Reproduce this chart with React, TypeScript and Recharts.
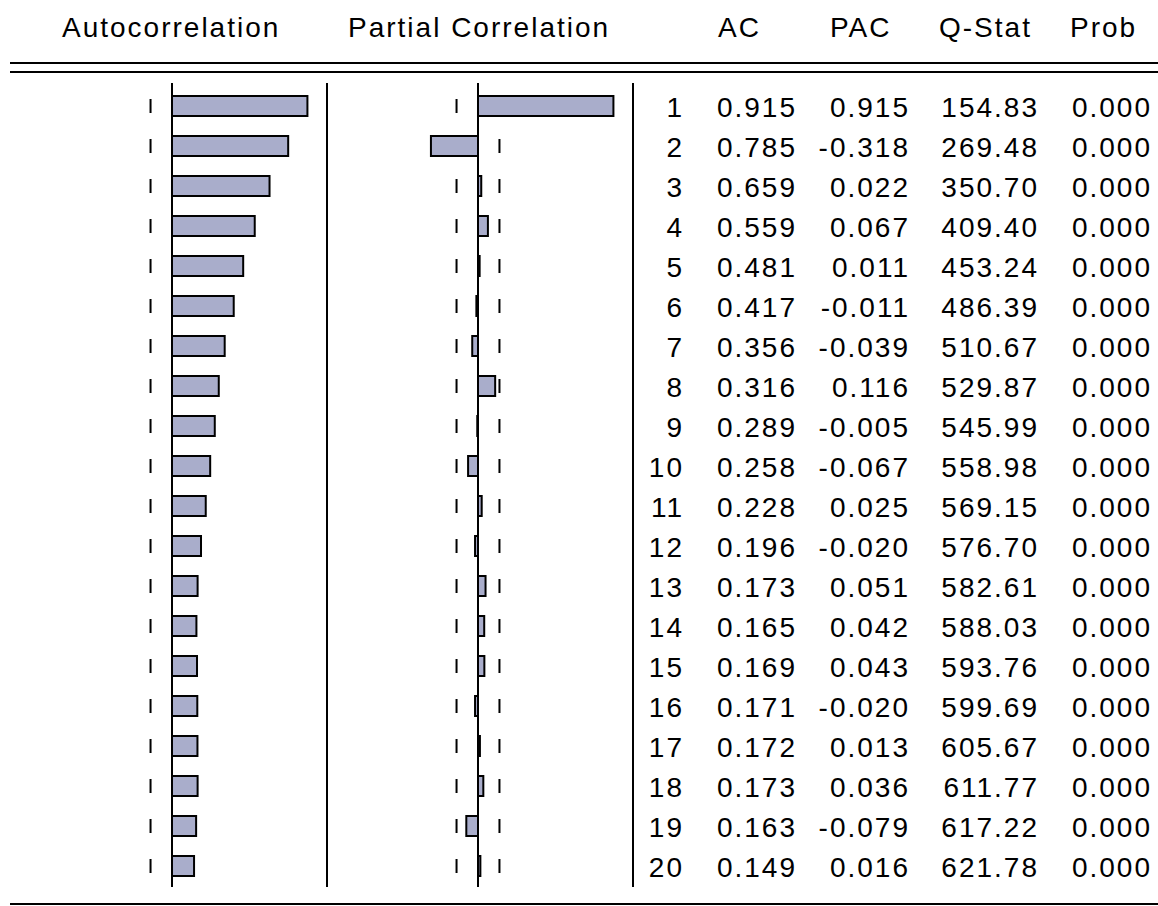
import React from "react";
import { ComposedChart, Bar, Line, XAxis, YAxis, ReferenceLine } from "recharts";

const lags = [1, 2, 3, 4, 5, 6, 7, 8, 9, 10, 11, 12, 13, 14, 15, 16, 17, 18, 19, 20];
const acValues = [0.915, 0.785, 0.659, 0.559, 0.481, 0.417, 0.356, 0.316, 0.289, 0.258, 0.228, 0.196, 0.173, 0.165, 0.169, 0.171, 0.172, 0.173, 0.163, 0.149];
const pacValues = [0.915, -0.318, 0.022, 0.067, 0.011, -0.011, -0.039, 0.116, -0.005, -0.067, 0.025, -0.02, 0.051, 0.042, 0.043, -0.02, 0.013, 0.036, -0.079, 0.016];
const qStats = [154.83, 269.48, 350.7, 409.4, 453.24, 486.39, 510.67, 529.87, 545.99, 558.98, 569.15, 576.7, 582.61, 588.03, 593.76, 599.69, 605.67, 611.77, 617.22, 621.78];
const probs = [0, 0, 0, 0, 0, 0, 0, 0, 0, 0, 0, 0, 0, 0, 0, 0, 0, 0, 0, 0];
// approx. 2/sqrt(T) band, read off the dashed ticks
const ciBound = 0.145;

const headers = [
  { text: "Autocorrelation", x: 62 },
  { text: "Partial Correlation", x: 348 },
  { text: "AC", x: 718 },
  { text: "PAC", x: 830 },
  { text: "Q-Stat", x: 939 },
  { text: "Prob", x: 1070 },
];

const rows = lags.map((lag, i) => ({
  lag,
  ac: acValues[i],
  pac: pacValues[i],
  q: qStats[i],
  prob: probs[i],
  ciLo: -ciBound,
  ciHi: ciBound,
}));

const FONT = "'Liberation Sans', Arial, sans-serif";
const BAR_FILL = "#a9adcb";
const H = 906;

// short vertical tick for the confidence band, hidden when the bar covers it
function ciTick(valueKey: "ac" | "pac", sign: number) {
  return (props: any) => {
    const { cx, cy, payload, index } = props;
    const v = payload[valueKey];
    if (v * sign > 0 && Math.abs(v) >= ciBound) return <g key={`t-${index}`} />;
    return <rect key={`t-${index}`} x={cx - 1} y={cy - 7} width={2} height={14} fill="#000" />;
  };
}

// columns of the right-hand table, in the PAC chart's own svg coordinates
const colRight = { lag: 354, ac: 467, pac: 580, q: 709, prob: 822 };

function TableTick(props: any) {
  const { y, payload } = props;
  const i = lags.indexOf(payload.value);
  if (i < 0) return null;
  const base = y + 11;
  const cells = [
    { x: colRight.lag, t: String(lags[i]) },
    { x: colRight.ac, t: acValues[i].toFixed(3) },
    { x: colRight.pac, t: pacValues[i].toFixed(3) },
    { x: colRight.q, t: qStats[i].toFixed(2) },
    { x: colRight.prob, t: probs[i].toFixed(3) },
  ];
  return (
    <g>
      {cells.map((c, k) => (
        <text key={k} x={c.x} y={base} textAnchor="end" fontFamily={FONT} fontSize={28} letterSpacing={2} fill="#000">
          {c.t}
        </text>
      ))}
    </g>
  );
}

function CorrPanel({ valueKey, width, marginLeft, showTable }: { valueKey: "ac" | "pac"; width: number; marginLeft: number; showTable?: boolean }) {
  return (
    <ComposedChart
      layout="vertical"
      width={width}
      height={H}
      data={rows}
      margin={{ top: 83, right: showTable ? 0 : 10, bottom: 19, left: marginLeft }}
      barCategoryGap={0}
    >
      <XAxis type="number" domain={[-1, 1]} hide />
      <YAxis type="category" dataKey="lag" hide padding={{ top: 3, bottom: 1 }} />
      {showTable && (
        <YAxis
          yAxisId="table"
          type="category"
          dataKey="lag"
          orientation="right"
          width={532}
          axisLine={false}
          tickLine={false}
          interval={0}
          padding={{ top: 3, bottom: 1 }}
          tick={<TableTick />}
        />
      )}
      <Line dataKey="ciLo" stroke="none" dot={ciTick(valueKey, -1)} activeDot={false} isAnimationActive={false} />
      <Line dataKey="ciHi" stroke="none" dot={ciTick(valueKey, 1)} activeDot={false} isAnimationActive={false} />
      <Bar dataKey={valueKey} barSize={20} fill={BAR_FILL} stroke="#000" strokeWidth={2} isAnimationActive={false} />
      <ReferenceLine x={0} stroke="#000" strokeWidth={2} />
    </ComposedChart>
  );
}

export default function App() {
  return (
    <div style={{ position: "absolute", left: 0, top: 0, width: 1158, height: H, background: "#fff", overflow: "hidden" }}>
      <div style={{ position: "absolute", left: 0, top: 0 }}>
        <CorrPanel valueKey="ac" width={330} marginLeft={24} />
      </div>
      <div style={{ position: "absolute", left: 330, top: 0 }}>
        <CorrPanel valueKey="pac" width={828} marginLeft={0} showTable />
      </div>
      <svg width={1158} height={H} style={{ position: "absolute", left: 0, top: 0, pointerEvents: "none" }}>
        {headers.map((h) => (
          <text key={h.text} x={h.x} y={37} fontFamily={FONT} fontSize={28} letterSpacing={2} fill="#000">
            {h.text}
          </text>
        ))}
        <rect x={10} y={62} width={1148} height={2} fill="#000" />
        <rect x={10} y={71} width={1148} height={2} fill="#000" />
        <rect x={10} y={903} width={1148} height={2} fill="#000" />
        <rect x={326} y={83} width={2} height={804} fill="#000" />
        <rect x={632} y={83} width={2} height={804} fill="#000" />
      </svg>
    </div>
  );
}
